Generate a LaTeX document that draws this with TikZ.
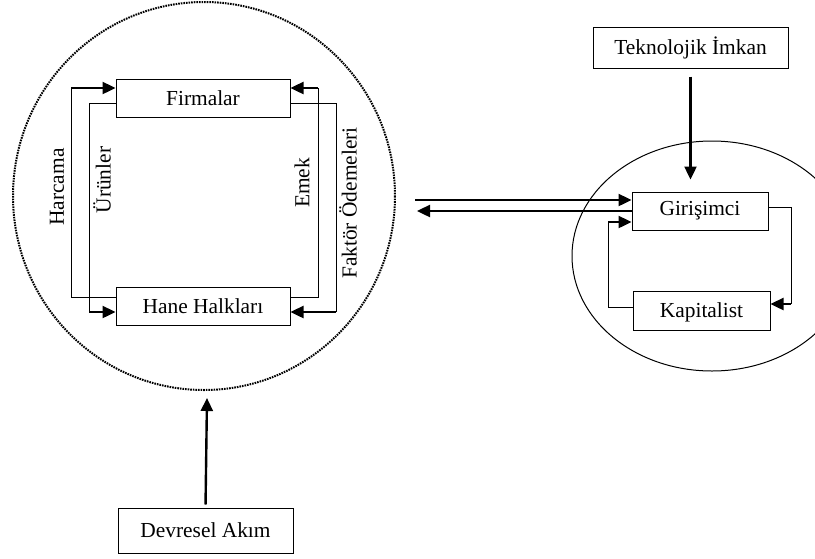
\documentclass[tikz,border=0pt]{standalone}
\usepackage{fontspec}
\setmainfont{Liberation Serif}
\usetikzlibrary{positioning,arrows.meta,calc}

\begin{document}
\begin{tikzpicture}[
    x=0.5pt, y=-0.5pt,
    font=\fontsize{10.7}{12}\selectfont,
    kutu/.style  = {draw, line width=0.5pt, inner sep=0pt},
    ok/.style    = {-{Triangle[length=6.5pt,width=6pt]}, line width=1.2pt},
    ince/.style  = {line width=0.5pt},
    etiket/.style = {rotate=90, inner sep=0pt}
  ]
  \useasboundingbox (0,0) rectangle (815,558);
  % cevreler
  \draw [dash pattern=on 0.8pt off 0.5pt, line width=1pt] (204,196) ellipse [x radius=191, y radius=194];
  \draw [line width=0.5pt] (712,256) ellipse [x radius=140, y radius=115];

  % kutular
  \node [kutu, minimum width=87pt, minimum height=19pt] (firma) at (203,98) {Firmalar};
  \node [kutu, minimum width=87pt, minimum height=19pt] (hane) at (203,306) {Hane Halkları};
  \node [kutu, minimum width=97.5pt, minimum height=20.5pt] (tekno) at (690.5,47.5) {Teknolojik İmkan};
  \node [kutu, minimum width=68pt, minimum height=19pt] (girisim) at (700,211) {Girişimci};
  \node [kutu, minimum width=68.5pt, minimum height=19.5pt, text depth=0pt] (kapital) at (701.5,310.5) {Kapitalist};
  \node [kutu, minimum width=87.5pt, minimum height=22.5pt] (devre) at (205.5,530.5) {Devresel Akım};

  % kose noktalari
  \coordinate (harcama) at (71,88);
  \coordinate (urun) at (89,312);
  \coordinate (emek) at (318,88);
  \coordinate (faktor) at (336,312);
  \coordinate (sol1) at (415,200);
  \coordinate (sol2) at (417,211);
  \coordinate (gk) at (791,304);
  \coordinate (kg) at (608,222);
  \coordinate (cevrealt) at (207,398);

  % dongu
  \draw [ince] ([yshift=4.5pt]hane.west) -| (harcama);
  \draw [ok] (harcama) -- (harcama -| firma.west);
  \draw [ince] ([yshift=-2.5pt]firma.west) -| (urun);
  \draw [ok] (urun) -- (urun -| hane.west);
  \draw [ince] ([yshift=4.5pt]hane.east) -| (emek);
  \draw [ok] (emek) -- (emek -| firma.east);
  \draw [ince] ([yshift=-2.5pt]firma.east) -| (faktor);
  \draw [ok] (faktor) -- (faktor -| hane.east);

  \node [etiket] (harcamayazi) at (57,187) {Harcama};
  \node [etiket] (urunyazi) at (102,180) {Ürünler};
  \node [etiket] (emekyazi) at (302,183) {Emek};
  \node [etiket] (faktoryazi) at (348,203) {Faktör Ödemeleri};

  % girisimci tarafi
  \draw [ok, shorten <=4pt, shorten >=6pt] (tekno.south) -- (tekno.south |- girisim.north);
  \draw [ok] (sol1) -- (sol1 -| girisim.west);
  \draw [ok] (girisim.west) -- (sol2);
  \draw [ince] ([yshift=2pt]girisim.east) -| (gk);
  \draw [ok] (gk) -- (gk -| kapital.east);
  \draw [ince] ([yshift=1.75pt]kapital.west) -| (kg);
  \draw [ok] (kg) -- (kg -| girisim.west);

  \draw [ok, shorten <=1.5pt] (devre.north) -- (cevrealt);
\end{tikzpicture}
\end{document}
